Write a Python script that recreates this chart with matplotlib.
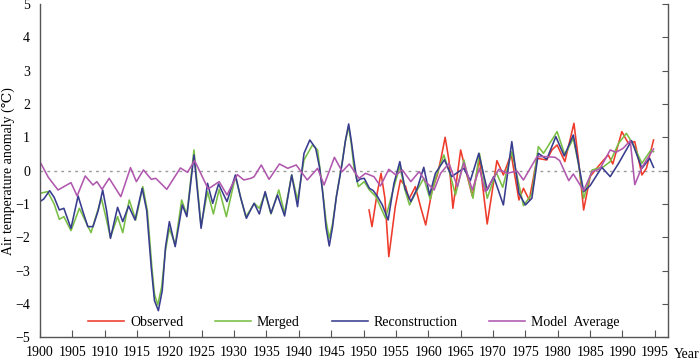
import matplotlib.pyplot as plt
import numpy as np

plt.rcParams['font.family'] = ['Liberation Serif', 'DejaVu Serif']
plt.rcParams['axes.unicode_minus'] = True

# ---- data ----
rec_year = [1900.0, 1900.6, 1901.5, 1902.2, 1903.0, 1903.7, 1904.8, 1905.9, 1906.6, 1907.4,
            1908.2, 1909.0, 1909.7, 1910.3, 1910.9, 1912.0, 1912.8, 1913.7, 1914.7, 1915.8,
            1916.5, 1917.2, 1917.7, 1918.3, 1918.9, 1919.4, 1920.0, 1920.9, 1922.0, 1922.7,
            1923.8, 1924.9, 1925.9, 1926.7, 1927.6, 1928.9, 1930.2, 1931.0, 1931.9, 1932.5,
            1933.1, 1933.9, 1934.8, 1935.7, 1936.7, 1937.8, 1938.9, 1939.8, 1940.8, 1941.7,
            1942.6, 1943.2, 1943.7, 1944.2, 1944.7, 1945.2, 1945.8, 1946.7, 1947.2, 1947.7,
            1948.1, 1948.5, 1949.0, 1949.5, 1950.1, 1950.9, 1951.5, 1952.1, 1952.9, 1953.8,
            1954.7, 1955.6, 1956.4, 1957.3, 1958.3, 1959.3, 1960.2, 1961.1, 1962.5, 1963.6,
            1964.7, 1965.5, 1966.5, 1967.8, 1969.1, 1970.1, 1971.6, 1972.9, 1974.0, 1975.0,
            1976.0, 1977.0, 1978.3, 1979.7, 1981.0, 1982.4, 1984.0, 1985.0, 1986.8, 1988.1,
            1989.4, 1991.4, 1993.0, 1994.2, 1994.8]
rec_val = [-0.93, -0.85, -0.60, -0.80, -1.18, -1.13, -1.73, -0.76, -1.20, -1.68,
           -1.68, -1.20, -0.58, -1.20, -2.03, -1.10, -1.53, -1.06, -1.48, -0.53,
           -1.20, -2.90, -3.90, -4.20, -3.60, -2.30, -1.53, -2.28, -1.03, -1.38,
           0.47, -1.73, -0.38, -0.98, -0.40, -0.93, -0.13, -0.80, -1.43, -1.20,
           -0.98, -1.30, -0.63, -1.28, -0.73, -1.36, -0.13, -1.08, 0.52, 0.92,
           0.67, 0.10, -0.68, -1.70, -2.26, -1.70, -0.78, 0.22, 0.90, 1.40,
           0.90, 0.32, -0.33, -0.25, -0.23, -0.53, -0.60, -0.76, -1.03, -1.48,
           -0.38, 0.27, -0.53, -0.93, -0.53, 0.10, -0.73, -0.08, 0.33, -0.18,
           -0.03, 0.07, -0.30, 0.52, -0.58, -0.18, -1.03, 0.87, -0.68, -1.03,
           -0.83, 0.52, 0.34, 1.02, 0.44, 1.07, -0.63, -0.45, 0.10, -0.18,
           0.22, 0.90, 0.07, 0.37, 0.10]

mer_year = [1900.0, 1901.2, 1902.2, 1903.0, 1903.7, 1904.8, 1906.1, 1907.0, 1907.9, 1909.5,
            1910.2, 1910.9, 1912.0, 1912.8, 1913.8, 1914.8, 1915.9, 1916.6, 1917.3, 1917.7,
            1918.2, 1918.8, 1919.4, 1920.0, 1920.9, 1921.9, 1922.7, 1923.8, 1924.9, 1925.9,
            1926.8, 1927.7, 1928.8, 1930.2, 1931.0, 1931.8, 1932.5, 1933.1, 1933.9, 1934.8,
            1935.7, 1936.9, 1937.8, 1938.9, 1939.8, 1940.8, 1942.1, 1942.9, 1943.6, 1944.2,
            1944.7, 1945.2, 1945.8, 1946.7, 1947.2, 1947.7, 1948.1, 1948.5, 1949.2, 1950.1,
            1950.9, 1951.9, 1953.4, 1954.7, 1955.6, 1956.4, 1957.1, 1958.0, 1959.3, 1960.3,
            1961.2, 1962.4, 1963.4, 1964.2, 1965.5, 1966.9, 1967.9, 1969.1, 1970.5, 1971.5,
            1972.9, 1974.7, 1976.0, 1977.0, 1977.8, 1979.9, 1981.1, 1982.4, 1983.2, 1984.0,
            1985.3, 1987.1, 1988.1, 1989.4, 1990.6, 1991.7, 1993.0, 1994.4, 1994.8]
mer_val = [-0.68, -0.63, -1.00, -1.46, -1.38, -1.80, -1.13, -1.50, -1.86, -0.83,
           -1.40, -2.00, -1.38, -1.86, -0.88, -1.48, -0.48, -1.20, -2.90, -3.70,
           -4.03, -3.50, -2.40, -1.73, -2.23, -0.88, -1.33, 0.62, -1.66, -0.63,
           -1.30, -0.56, -1.38, -0.18, -0.80, -1.38, -1.18, -0.98, -1.13, -0.68,
           -1.30, -0.58, -1.28, -0.13, -0.88, 0.32, 0.77, 0.62, -0.48, -1.50,
           -2.03, -1.60, -0.78, 0.27, 0.90, 1.32, 0.80, 0.12, -0.48, -0.33,
           -0.58, -0.78, -1.43, -0.48, 0.12, -0.58, -1.03, -0.68, -0.23, -0.86,
           -0.18, 0.47, -0.13, -0.73, 0.32, -0.83, 0.52, -0.83, -0.05, -0.50,
           0.57, -1.05, -0.70, 0.72, 0.52, 1.17, 0.47, 0.97, 0.20, -0.83,
           0.02, 0.12, 0.27, 0.82, 1.12, 0.77, 0.22, 0.62, 0.57]

obs_year = [1950.85, 1951.3, 1952.1, 1952.7, 1953.3, 1953.9, 1954.9, 1955.7, 1956.5, 1957.0,
            1958.0, 1958.8, 1959.6, 1960.6, 1961.4, 1962.0, 1962.6, 1963.2, 1963.8, 1965.0,
            1965.7, 1966.8, 1967.9, 1969.1, 1970.6, 1971.6, 1972.8, 1974.0, 1974.7, 1975.6,
            1976.8, 1978.3, 1979.1, 1979.9, 1981.1, 1982.5, 1983.2, 1984.0, 1985.0, 1985.8,
            1987.1, 1987.8, 1988.5, 1989.9, 1990.9, 1991.9, 1993.0, 1993.7, 1994.8]
obs_val = [-1.18, -1.68, -0.68, -0.08, -0.83, -2.58, -1.08, -0.28, -0.48, -0.86,
           -0.48, -1.08, -1.63, -0.58, -0.13, 0.40, 1.00, 0.30, -1.13, 0.62,
           0.07, -0.76, 0.35, -1.60, 0.30, -0.13, 0.50, -0.88, -0.53, -0.88,
           0.37, 0.32, 0.62, 0.77, 0.27, 1.42, 0.32, -1.18, -0.18, 0.02,
           0.32, 0.47, 0.20, 1.17, 0.82, 0.87, -0.13, 0.07, 0.92]

mod_year = [1900.0, 1901.3, 1902.8, 1904.8, 1905.75, 1907.0, 1908.2, 1908.8, 1909.6, 1910.7,
            1912.5, 1914.0, 1914.9, 1916.0, 1917.2, 1917.9, 1919.6, 1921.7, 1922.8, 1923.9,
            1926.0, 1927.7, 1928.9, 1930.5, 1931.5, 1932.6, 1933.1, 1934.2, 1935.4, 1937.0,
            1938.3, 1939.6, 1941.3, 1942.9, 1943.9, 1945.5, 1946.7, 1947.8, 1949.3, 1950.3,
            1951.6, 1952.6, 1953.9, 1955.0, 1956.0, 1957.3, 1958.6, 1959.6, 1960.9, 1961.9,
            1963.2, 1964.5, 1965.5, 1966.8, 1967.9, 1968.8, 1970.9, 1972.2, 1973.7, 1974.7,
            1976.8, 1978.3, 1979.6, 1980.3, 1981.7, 1982.4, 1984.0, 1985.3, 1986.5, 1988.1,
            1989.0, 1990.1, 1991.2, 1991.9, 1993.0, 1994.8]
mod_val = [0.27, -0.20, -0.58, -0.36, -0.76, -0.16, -0.43, -0.33, -0.56, -0.23,
           -0.78, 0.09, -0.33, 0.02, -0.26, -0.23, -0.56, 0.08, -0.05, 0.30,
           -0.55, -0.33, -0.73, -0.12, -0.28, -0.23, -0.18, 0.17, -0.26, 0.20,
           0.07, 0.17, -0.28, 0.07, -0.43, 0.40, -0.03, 0.20, -0.23, -0.08,
           -0.18, -0.46, 0.04, -0.13, 0.02, -0.33, -0.03, -0.33, -0.58, -0.08,
           0.22, -0.48, 0.24, -0.58, 0.07, -0.63, 0.04, -0.08, -0.01, -0.28,
           0.42, 0.42, 0.40, 0.30, -0.30, -0.10, -0.60, -0.03, 0.05, 0.62,
           0.55, 0.67, 0.90, -0.42, 0.10, 0.65]

years_ticks = np.arange(1900, 1996, 5)

# ---- plot ----
fig = plt.figure(figsize=(7, 3.6), dpi=100)
ax = fig.add_axes([0.057, 0.063, 0.897, 0.926])

ax.axhline(0, color="#9a9a9a", lw=1.0, dashes=(2, 3), zorder=1)

ax.plot(obs_year, obs_val, color="#ee3b2b", lw=1.15, label="Observed")
ax.plot(mer_year, mer_val, color="#79bf45", lw=1.15, label="Merged")
ax.plot(rec_year, rec_val, color="#383c8e", lw=1.15, label="Reconstruction")
ax.plot(mod_year, mod_val, color="#b058ae", lw=1.15, label="Model  Average")

ax.set_xlim(1900, 1997)
ax.set_ylim(-5, 5)
ax.set_xticks(years_ticks)
ax.set_yticks(np.arange(-5, 6, 1))
ax.spines["top"].set_visible(False)
for s in ["left", "right", "bottom"]:
    ax.spines[s].set_color("#555555")
    ax.spines[s].set_linewidth(1.0)

ax.tick_params(axis="x", direction="in", length=5, width=0.8, color="#555555",
               labelsize=10, pad=6)
ax.tick_params(axis="y", direction="in", labelsize=10, pad=7,
               right=True, left=False, length=4, width=0.8, color="#555555")

ax.set_ylabel("Air temperature anomaly (\u2103)", fontsize=10)
ax.yaxis.set_label_coords(-0.039, 0.5)
ax.text(1.01, -0.052, "Year", transform=ax.transAxes, fontsize=10,
        ha="left", va="center")

ax.legend(loc="lower center", bbox_to_anchor=(0.5, -0.012), ncol=4, frameon=False,
          fontsize=10, handlelength=2.6, handletextpad=0.4, columnspacing=2.3)

fig.savefig("out.png", dpi=100)
